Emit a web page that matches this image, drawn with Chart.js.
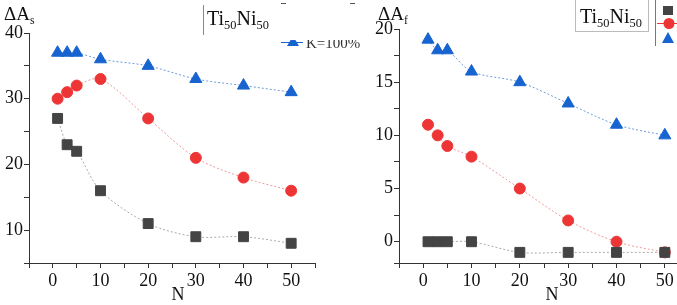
<!DOCTYPE html>
<html>
<head>
<meta charset="utf-8">
<script src="https://cdn.jsdelivr.net/npm/chart.js@4/dist/chart.umd.min.js"></script>
<style>
  html, body { margin: 0; padding: 0; background: #fff; overflow: hidden; }
  #wrap { position: relative; width: 677px; height: 305px; overflow: hidden; }
  canvas { position: absolute; top: 0; }
</style>
</head>
<body>
<div id="wrap">
  <canvas id="chartAs" width="360" height="305" style="left:0"></canvas>
  <canvas id="chartAf" width="360" height="305" style="left:340px"></canvas>
</div>
<script>
// cycle numbers
const nValues = [1, 3, 5, 10, 20, 30, 40, 50];

// delta As
const asBlack = [27, 23, 22, 16, 11, 9, 9, 8];
const asRed = [30, 31, 32, 33, 27, 21, 18, 16];
const asBlue = [37, 37, 37, 36, 35, 33, 32, 31];

// delta Af
const afBlack = [0, 0, 0, 0, -1, -1, -1, -1];
const afRed = [11, 10, 9, 8, 5, 2, 0, -1];
const afBlue = [19, 18, 18, 16, 15, 13, 11, 10];

const xTicks = [-5, 0, 5, 10, 15, 20, 25, 30, 35, 40, 45, 50, 55];
const asTicks = [5, 10, 15, 20, 25, 30, 35, 40];
const afTicks = [-2, 0, 2.5, 5, 7.5, 10, 12.5, 15, 17.5, 20];

const SERIF = '"Liberation Serif", "Times New Roman", serif';
const AXIS = '#333';

function pts(ys) {
    return nValues.map((n, i) => ({ x: n, y: ys[i] }));
}

function makeSets(black, red, blue) {
    const base = { borderWidth: 1, borderDash: [2, 2], tension: 0.3, showLine: true };
    return [
        Object.assign({}, base, { data: pts(black), pointStyle: 'rect', pointRadius: 7,
            backgroundColor: '#444', borderColor: '#aaa', pointBorderColor: '#444' }),
        Object.assign({}, base, { data: pts(red), pointStyle: 'circle', pointRadius: 5.5,
            backgroundColor: '#ee3535', borderColor: '#f29a9a', pointBorderColor: '#ee3535' }),
        Object.assign({}, base, { data: pts(blue), pointStyle: 'triangle', pointRadius: 7,
            backgroundColor: '#1764d0', borderColor: '#6d9bdc', pointBorderColor: '#1764d0' })
    ];
}

// text with subscripts: parts = [[text, isSub], ...]
function drawSub(ctx, parts, x, y, size) {
    ctx.save();
    ctx.fillStyle = '#111';
    ctx.textBaseline = 'alphabetic';
    ctx.textAlign = 'left';
    parts.forEach(p => {
        const s = p[1] ? size * 0.62 : size;
        ctx.font = s + 'px ' + SERIF;
        ctx.fillText(p[0], x, y + (p[1] ? size * 0.22 : 0));
        x += ctx.measureText(p[0]).width;
    });
    ctx.restore();
}

function scales(yMin, yMax, yTickList, yWidth) {
    const labelCb = v => (v % 10 === 0 && v >= 0 && v <= 50) ? v : '';
    return {
        x: {
            type: 'linear', min: -5, max: 55,
            afterBuildTicks: s => { s.ticks = xTicks.map(v => ({ value: v })); },
            afterFit: s => { s.height = 42; },
            border: { display: true, color: AXIS, width: 1 },
            grid: { drawOnChartArea: false, tickLength: 5, tickColor: AXIS },
            ticks: { callback: labelCb, padding: 2, color: '#111', maxRotation: 0, autoSkip: false,
                font: { family: SERIF, size: 18 } }
        },
        y: {
            min: yMin, max: yMax,
            afterBuildTicks: s => { s.ticks = yTickList.map(v => ({ value: v })); },
            afterFit: s => { s.width = yWidth; },
            border: { display: true, color: AXIS, width: 1 },
            grid: { drawOnChartArea: false, tickLength: 5, tickColor: AXIS },
            ticks: { callback: v => (v % 5 === 0 && (yMax === 40 ? v % 10 === 0 : true)) ? v : '',
                padding: 1, color: '#111', autoSkip: false, font: { family: SERIF, size: 18 } }
        }
    };
}

// extra texts for the left panel
const decoAs = {
    id: 'decoAs',
    afterDraw(chart) {
        const ctx = chart.ctx;
        drawSub(ctx, [['ΔA', false], ['s', true]], 4, 20, 19);
        drawSub(ctx, [['Ti', false], ['50', true], ['Ni', false], ['50', true]], 207, 25, 20);
        ctx.save();
        ctx.strokeStyle = '#888';
        ctx.lineWidth = 1;
        ctx.beginPath(); ctx.moveTo(203.5, 5); ctx.lineTo(203.5, 35); ctx.stroke();
        ctx.strokeStyle = '#555';
        ctx.beginPath(); ctx.moveTo(281, 3.5); ctx.lineTo(286, 3.5);
        ctx.moveTo(350, 3.5); ctx.lineTo(355, 3.5); ctx.stroke();
        // partly hidden legend entry
        ctx.beginPath(); ctx.rect(270, 40, 100, 20); ctx.clip();
        ctx.strokeStyle = '#1764d0';
        ctx.beginPath(); ctx.moveTo(281, 42.5); ctx.lineTo(303, 42.5); ctx.stroke();
        ctx.fillStyle = '#1764d0';
        ctx.beginPath(); ctx.moveTo(293, 36); ctx.lineTo(299, 46); ctx.lineTo(287, 46); ctx.fill();
        ctx.fillStyle = '#333';
        ctx.font = '15px ' + SERIF;
        ctx.fillText('K=100%', 306, 48);
        ctx.restore();
        ctx.save();
        ctx.fillStyle = '#111';
        ctx.font = '18px ' + SERIF;
        ctx.textAlign = 'center';
        ctx.fillText('N', 178, 300);
        ctx.restore();
    }
};

// extra texts for the right panel (canvas starts at x=340)
const decoAf = {
    id: 'decoAf',
    afterDraw(chart) {
        const ctx = chart.ctx;
        drawSub(ctx, [['ΔA', false], ['f', true]], 38, 20, 19);
        ctx.save();
        ctx.strokeStyle = '#bbb';
        ctx.lineWidth = 1;
        ctx.strokeRect(235.5, -1.5, 73, 33);
        ctx.restore();
        drawSub(ctx, [['Ti', false], ['50', true], ['Ni', false], ['50', true]], 240, 23, 20);
        ctx.save();
        ctx.strokeStyle = '#777';
        ctx.beginPath(); ctx.moveTo(315.5, 0); ctx.lineTo(315.5, 46); ctx.stroke();
        ctx.fillStyle = '#444';
        ctx.fillRect(323, 6, 10, 9);
        ctx.strokeStyle = '#ee3535';
        ctx.beginPath(); ctx.moveTo(317, 23.5); ctx.lineTo(337, 23.5); ctx.stroke();
        ctx.fillStyle = '#ee3535';
        ctx.beginPath(); ctx.arc(329, 23.5, 5.5, 0, Math.PI * 2); ctx.fill();
        ctx.fillStyle = '#1764d0';
        ctx.beginPath(); ctx.moveTo(328, 32); ctx.lineTo(334, 43); ctx.lineTo(322, 43); ctx.fill();
        ctx.fillStyle = '#111';
        ctx.font = '18px ' + SERIF;
        ctx.textAlign = 'center';
        ctx.fillText('N', 212, 300);
        ctx.restore();
    }
};

function build(id, sets, yMin, yMax, yTickList, yWidth, pad, deco) {
    return new Chart(document.getElementById(id).getContext('2d'), {
        type: 'scatter',
        data: { datasets: sets },
        options: {
            responsive: false,
            animation: false,
            devicePixelRatio: 1,
            layout: { padding: pad },
            plugins: { legend: { display: false }, tooltip: { enabled: false } },
            scales: scales(yMin, yMax, yTickList, yWidth)
        },
        plugins: [deco]
    });
}

build('chartAs', makeSets(asBlack, asRed, asBlue), 5, 40, asTicks, 29,
    { top: 33, right: 45, left: 0, bottom: 0 }, decoAs);
build('chartAf', makeSets(afBlack, afRed, afBlue), -2, 20, afTicks, 59,
    { top: 29, right: 11, left: 0, bottom: 0 }, decoAf);
</script>
</body>
</html>
